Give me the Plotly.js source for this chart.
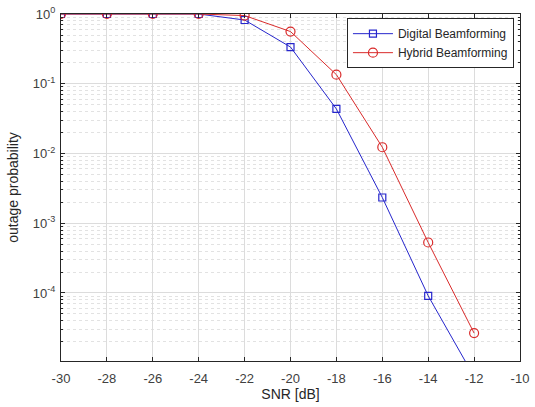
<!DOCTYPE html>
<html>
<head>
<meta charset="utf-8">
<script src="https://cdn.plot.ly/plotly-3.0.1.min.js"></script>
<style>html,body{margin:0;padding:0;background:#fff}#chart{width:535px;height:407px}</style>
</head>
<body>
<div id="chart"></div>
<script>
const snr = [-30, -28, -26, -24, -22, -20, -18, -16, -14, -12];
const digital = [1, 1, 1, 1, 0.82, 0.336, 0.0435, 0.00234, 9.1e-5, 6.3e-6];
const hybrid = [1, 1, 1, 1, 0.95, 0.56, 0.135, 0.0123, 5.3e-4, 2.66e-5];
const xTicks = [-30, -28, -26, -24, -22, -20, -18, -16, -14, -12, -10];
const xTickText = ['-30', '-28', '-26', '-24', '-22', '-20', '-18', '-16', '-14', '-12', '-10'];
const yTicks = [1, 0.1, 0.01, 0.001, 0.0001];
const yTickText = ['10<sup>0</sup>', '10<sup>-1</sup>', '10<sup>-2</sup>', '10<sup>-3</sup>', '10<sup>-4</sup>'];
const seriesNames = ['Digital Beamforming', 'Hybrid Beamforming'];

const minorVals = [];
for (let e = -5; e < 0; e++) {
  for (let m = 2; m <= 9; m++) minorVals.push(m * Math.pow(10, e));
}

const traces = [
  {
    x: snr, y: digital, name: seriesNames[0], type: 'scatter', mode: 'lines+markers',
    line: {color: '#2626cc', width: 1},
    marker: {symbol: 'square-open', size: 7, color: '#2626cc', line: {width: 1.2}},
    cliponaxis: true
  },
  {
    x: snr, y: hybrid, name: seriesNames[1], type: 'scatter', mode: 'lines+markers',
    line: {color: '#d92b2b', width: 1},
    marker: {symbol: 'circle-open', size: 9, color: '#d92b2b', line: {width: 1.2}},
    cliponaxis: true
  }
];

const layout = {
  width: 535, height: 407,
  margin: {l: 61, r: 15, t: 14, b: 46},
  paper_bgcolor: '#fff', plot_bgcolor: '#fff',
  font: {family: 'Liberation Sans, Arial, sans-serif', size: 13, color: '#404040'},
  showlegend: true,
  legend: {
    x: 0.623, y: 0.988, xanchor: 'left', yanchor: 'top',
    bgcolor: '#fff', bordercolor: '#262626', borderwidth: 1,
    font: {size: 12, color: '#262626'},
    itemwidth: 40,
    tracegroupgap: 0
  },
  xaxis: {
    range: [-30, -10],
    tickvals: xTicks, ticktext: xTickText,
    ticks: 'inside', ticklen: 4, tickcolor: '#262626',
    showline: true, linecolor: '#262626', linewidth: 1, mirror: 'ticks',
    showgrid: true, gridcolor: '#dcdcdc', gridwidth: 1,
    zeroline: false,
    ticklabelstandoff: 5,
    tickfont: {size: 13, color: '#404040'},
    title: {text: 'SNR [dB]', font: {size: 14, color: '#262626'}, standoff: 4}
  },
  yaxis: {
    type: 'log',
    range: [-4.975, 0],
    tickvals: yTicks, ticktext: yTickText,
    ticks: 'inside', ticklen: 4, tickcolor: '#262626',
    showline: true, linecolor: '#262626', linewidth: 1, mirror: 'ticks',
    showgrid: true, gridcolor: '#dcdcdc', gridwidth: 1,
    zeroline: false,
    ticklabelstandoff: 2,
    tickfont: {size: 13, color: '#404040'},
    title: {text: 'outage probability', font: {size: 14, color: '#262626'}, standoff: 10},
    minor: {
      tickvals: minorVals, ticks: 'inside', ticklen: 2, tickcolor: '#262626',
      showgrid: true, gridcolor: '#e2e2e2', griddash: 'dot', gridwidth: 1
    }
  }
};

Plotly.newPlot('chart', traces, layout, {displayModeBar: false, staticPlot: true});
</script>
</body>
</html>
